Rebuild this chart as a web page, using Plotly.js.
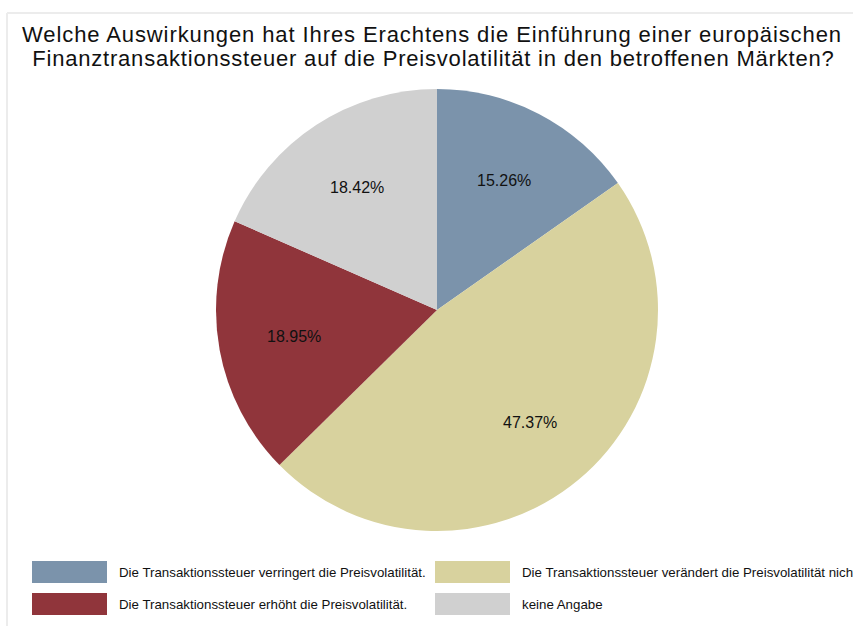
<!DOCTYPE html>
<html>
<head>
<meta charset="utf-8">
<script src="https://cdn.plot.ly/plotly-3.0.1.min.js"></script>
<style>
html,body{margin:0;padding:0;background:#fff;}
#chart{width:853px;height:626px;}
#chart text.gtitle{letter-spacing:0.9px;}
#chart g.annotation[data-index="0"] text{letter-spacing:0.8px;}
</style>
</head>
<body>
<div id="chart"></div>
<script>
const titleLines = [
  "Welche Auswirkungen hat Ihres Erachtens die Einführung einer europäischen",
  "Finanztransaktionssteuer auf die Preisvolatilität in den betroffenen Märkten?"
];
const categories = [
  "Die Transaktionssteuer verringert die Preisvolatilität.",
  "Die Transaktionssteuer verändert die Preisvolatilität nicht.",
  "Die Transaktionssteuer erhöht die Preisvolatilität.",
  "keine Angabe"
];
const values = [15.26, 47.37, 18.95, 18.42];
const colors = ["#7b93ab", "#d8d29e", "#90353b", "#d0d0d0"];

const W = 853, H = 626;
const cx = 437, cy = 310, R = 221;
const FONT = "Liberation Sans, Arial, sans-serif";
const dom = {
  x: [(cx - R) / W, (cx + R) / W],
  y: [(H - cy - R) / H, (H - cy + R) / H]
};

const trace = {
  type: "pie",
  labels: categories,
  values: values,
  sort: false,
  direction: "clockwise",
  rotation: 0,
  marker: {colors: colors, line: {width: 0}},
  textinfo: "none",
  hoverinfo: "label+percent",
  showlegend: false,
  domain: dom
};

const annotations = [];
// second title line (index 0)
annotations.push({
  xref: "paper", yref: "paper",
  x: 433 / W, y: 1 - 58.5 / H,
  text: titleLines[1], showarrow: false,
  xanchor: "center", yanchor: "middle",
  font: {family: FONT, size: 22, color: "#111"}
});

// percentage labels placed along slice bisectors
const total = values.reduce((a, b) => a + b, 0);
let cum = 0;
values.forEach((v) => {
  const mid = (cum + v / 2) / total * 2 * Math.PI;
  cum += v;
  const px = cx + 0.66 * R * Math.sin(mid);
  const py = cy - 0.66 * R * Math.cos(mid);
  annotations.push({
    xref: "paper", yref: "paper",
    x: px / W, y: 1 - py / H,
    text: (v / total * 100).toFixed(2) + "%",
    showarrow: false,
    font: {family: FONT, size: 16, color: "#111"},
    xanchor: "center", yanchor: "middle"
  });
});

// legend (2 x 2 grid)
const shapes = [];
const legCols = [32, 435];
const legRows = [572, 604];
const swW = 75, swH = 22;
const legendOrder = [[0, 0, 0], [1, 1, 0], [2, 0, 1], [3, 1, 1]];
legendOrder.forEach(([i, col, row]) => {
  const x0 = legCols[col], yc = legRows[row];
  shapes.push({
    type: "rect", xref: "paper", yref: "paper",
    x0: x0 / W, x1: (x0 + swW) / W,
    y0: 1 - (yc + swH / 2) / H, y1: 1 - (yc - swH / 2) / H,
    fillcolor: colors[i], line: {width: 0}
  });
  annotations.push({
    xref: "paper", yref: "paper",
    x: (x0 + swW + 10) / W, y: 1 - yc / H,
    text: categories[i], showarrow: false,
    xanchor: "left", yanchor: "middle",
    font: {family: FONT, size: 13.3, color: "#111"}
  });
});

// faint frame (left and top edges)
shapes.push({type: "line", xref: "paper", yref: "paper", x0: 7 / W, x1: 7 / W, y0: 0, y1: 1 - 13 / H, line: {color: "#ececec", width: 2}});
shapes.push({type: "line", xref: "paper", yref: "paper", x0: 7 / W, x1: 1, y0: 1 - 13 / H, y1: 1 - 13 / H, line: {color: "#ececec", width: 2}});

const layout = {
  width: W, height: H,
  margin: {l: 0, r: 0, t: 0, b: 0},
  paper_bgcolor: "#fff",
  plot_bgcolor: "#fff",
  title: {
    text: titleLines[0],
    x: 432 / W, xanchor: "center", xref: "paper",
    y: 1 - 34.5 / H, yanchor: "middle", yref: "container",
    font: {family: FONT, size: 22, color: "#111"}
  },
  annotations: annotations,
  shapes: shapes
};

Plotly.newPlot("chart", [trace], layout, {displayModeBar: false, staticPlot: true});
</script>
</body>
</html>
